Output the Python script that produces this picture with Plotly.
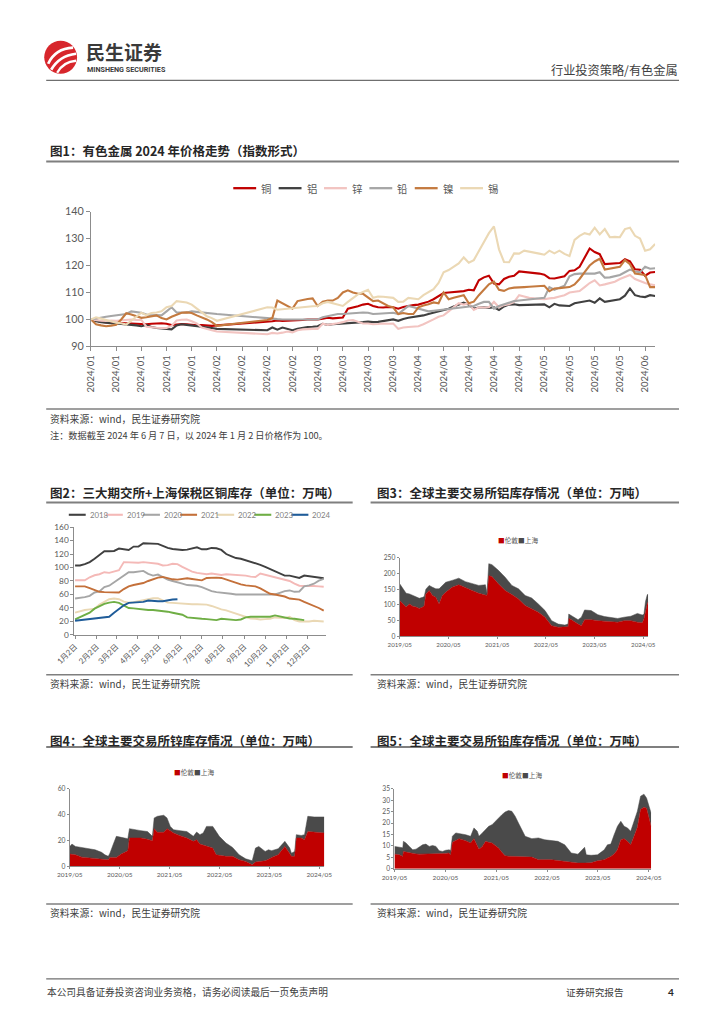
import plotly.graph_objects as go
import pandas as pd

W, H = 724, 1024
# page coordinates (px) -> paper coordinates, compensating the capture offset/scale seen in round 1
SX, OX = 0.962, 25.7
SY, OY = 0.984, 16.4
def X(p): return ((p - OX) / SX) / W
def Y(p): return 1 - ((p - OY) / SY) / H

CN = "Noto Sans CJK SC"
NUM = "Lato, Noto Sans CJK SC"
AX = "#8c8c8c"
TXT = "#404040"
TICK = "#595959"

# ================= Figure 1: price index =================
c1_names = ["铜", "铝", "锌", "铅", "镍", "锡"]
c1_colors = ["#C00000", "#404040", "#F2C4C1", "#A6A6A6", "#C47A3F", "#EBD8B4"]
c1_tickpos = [0, 5, 10, 15, 20, 25, 30, 35, 40, 45, 50, 55, 60, 65, 70, 75, 80, 85, 90, 95, 100, 105, 110]
c1_ticktext = ["2024/01"] * 5 + ["2024/02"] * 4 + ["2024/03"] * 4 + ["2024/04"] * 5 + ["2024/05"] * 4 + ["2024/06"]
c1_days = list(range(113))

cu = [100.0, 99.5, 99.2, 98.9, 98.8, 98.7, 98.6, 98.5, 98.6, 98.4,
      98.3, 98.2, 98.4, 98.5, 98.6, 98.4, 97.9, 98.1, 98.3, 98.2,
      98.0, 97.8, 97.9, 97.7, 97.6, 97.8,
      None, None, None, None, None, None, None, None, None,
      99.0, 99.3, 99.6, 99.4, 99.5, 99.6, 99.5, 99.8, 100.0, 99.9,
      100.0, 100.3, 100.6, 100.4, 100.5, 100.7, 104.0, 104.4, 104.9, 105.5,
      105.8, 105.0, 104.5, 104.4, 104.6, 104.5, 104.0, 104.6, 105.0, 105.3,
      105.5, 106.0, 106.6, 107.5, 108.5, 109.8, 110.0, 110.1, 110.3, 110.5,
      111.0, 110.8, 114.5, 115.6, 116.2, 113.3, 113.0, 115.0, 115.8, 116.2,
      117.8, 117.6, 117.5, 117.3, 117.0, 116.6, 115.3, 115.2, 115.5, 116.0,
      118.0, 118.2, 119.5, 123.0, 126.3, 125.0, 124.2, 120.5, 120.6, 120.8,
      120.9, 122.3, 121.5, 118.6, 118.4, 116.2, 117.4, 117.6]
al = [100.0, 99.3, 99.0, 98.7, 98.6, 98.5, 98.4, 98.2, 98.0, 97.8,
      97.5, 97.9, 97.2, 96.8, 96.6, 96.4, 96.3, 97.8, 98.2, 98.0,
      97.8, 97.5, 97.3, 97.0, 96.8, 96.5,
      None, None, None, None, None, None, None, None, None,
      96.0, 97.0, 96.2, 97.0, 96.4, 96.0, 96.5, 96.9, 97.2, 97.3,
      97.5, 98.4, 98.0, 98.2, 98.3, 98.5, 98.6, 98.8, 98.7, 99.0,
      99.2, 99.0, 99.1, 99.4, 99.6, 100.0, 99.5, 100.2, 100.6, 100.9,
      101.0, 101.5, 102.0, 102.5, 103.0, 103.5, 104.0, 104.8, 105.5, 106.2,
      105.5, 104.0, 104.4, 104.5, 104.3, 104.5, 103.5, 104.8, 105.5, 105.6,
      105.3, 105.4, 105.4, 105.5, 105.5, 105.6, 104.5, 105.8, 105.2, 105.0,
      105.0, 106.0, 106.4, 106.8, 107.0, 106.2, 107.8, 106.5, 106.8, 107.0,
      107.5, 108.8, 111.5, 109.0, 108.5, 108.3, 109.0, 108.7]
zn = [100.0, 99.7, 99.5, 99.4, 99.6, 99.5, 99.7, 99.9, 100.0, 99.8,
      99.8, 97.3, 97.0, 96.9, 96.8, 96.8, 97.6, 99.6, 99.9, 100.0,
      99.3, 98.5, 97.0, 96.4, 96.0, 95.5,
      None, None, None, None, None, None, None, None, None,
      94.5, 95.0, 94.8, 95.1, 95.5, 95.2, 96.0, 96.3, 96.5, 96.5,
      96.5, 98.4, 98.0, 98.2, 98.6, 99.0, 99.6, 99.8, 99.0, 98.5,
      98.5, 98.2, 98.3, 98.5, 98.4, 98.5, 96.5, 97.0, 97.2, 97.4,
      97.5, 98.2, 99.0, 100.0, 101.0, 101.5, 103.0, 104.5, 106.0, 105.5,
      106.0, 103.5, 104.5, 104.4, 104.5, 106.5, 104.5, 105.3, 105.6, 106.5,
      109.0, 108.5, 108.0, 107.8, 107.6, 107.5, 107.8, 108.0, 108.5, 109.0,
      110.0, 110.2, 110.5, 112.0, 113.5, 114.5, 112.6, 113.0, 113.5, 114.0,
      115.0, 115.8, 116.5, 115.0, 114.2, 113.5, 113.0, 112.7]
pb = [100.0, 100.4, 100.7, 101.0, 101.3, 101.5, 101.8, 102.0, 103.0, 102.8,
      102.5, 101.8, 101.5, 101.6, 101.5, 103.0, 104.5, 102.6, 102.5, 102.6,
      103.0, 102.8, 102.5, 102.2, 102.0, 102.0,
      None, None, None, None, None, None, None, None, None,
      100.5, 100.2, 100.1, 100.0, 100.0, 100.2, 100.1, 100.0, 100.0, 100.0,
      100.0, 100.8, 101.2, 101.6, 102.0, 102.0, 102.2, 102.4, 102.5, 102.6,
      102.5, 102.0, 102.1, 102.3, 102.4, 102.5, 102.0, 103.5, 105.0, 104.5,
      104.0, 103.6, 103.0, 103.2, 103.4, 103.6, 104.0, 104.2, 104.3, 104.5,
      104.8, 105.0, 105.8, 106.5, 106.5, 104.0, 105.0, 105.6, 106.2, 106.8,
      107.0, 107.2, 107.4, 107.5, 107.7, 108.0, 112.0, 111.0, 111.8, 112.5,
      116.0, 116.8, 117.0, 117.0, 117.0, 117.0, 117.5, 115.5, 115.6, 116.0,
      116.5, 117.5, 118.5, 117.8, 117.5, 119.5, 118.8, 119.0]
ni = [100.0, 98.2, 97.8, 97.5, 97.7, 98.0, 100.0, 102.3, 101.8, 101.2,
      100.6, 100.8, 101.2, 101.5, 100.5, 100.0, 101.0, 101.8, 102.5, 102.6,
      102.4, 101.5, 100.8, 100.0, 99.0, 97.6,
      None, None, None, None, None, None, None, None, None,
      99.8, 100.5, 107.0, 106.0, 105.0, 104.0, 106.8, 107.3, 107.6, 107.8,
      105.0, 106.6, 107.0, 107.0, 108.0, 110.0, 110.8, 110.0, 109.5, 109.5,
      108.0, 106.8, 107.0, 106.0, 105.0, 104.5, 102.0, 102.4, 102.0, 102.0,
      104.5, 105.2, 105.6, 106.3, 106.0, 110.0, 107.5, 108.0, 108.5, 109.0,
      106.0, 106.6, 109.0, 111.0, 113.0, 114.0, 111.0, 110.6, 111.5, 111.8,
      112.0, 112.0, 112.1, 112.2, 112.3, 112.5, 110.5, 111.5, 111.6, 111.8,
      112.0, 113.0, 115.0, 117.5, 120.0, 121.5, 122.5, 118.5, 118.8, 119.2,
      119.5, 122.0, 120.5, 117.0, 116.8, 116.5, 112.0, 112.0]
sn = [100.0, 100.8, 100.3, 99.8, 99.2, 98.8, 98.6, 98.1, 99.5, 101.0,
      102.5, 101.6, 102.4, 102.6, 103.0, 104.5, 105.0, 106.8, 106.6, 106.3,
      105.5, 104.0, 102.5, 101.2, 100.5, 99.5,
      None, None, None, None, None, None, None, None, None,
      104.5, 104.4, 103.6, 103.8, 104.0, 104.3, 104.5, 104.6, 104.8, 104.9,
      105.0, 106.0, 106.5, 106.0, 105.3, 105.0, 106.5, 108.0, 109.3, 110.2,
      111.0, 108.0, 108.5, 108.4, 108.3, 108.0, 106.5, 106.6, 108.0, 107.8,
      107.5, 109.0, 110.0, 111.2, 113.5, 117.5, 118.3, 119.5, 120.8, 123.0,
      121.0, 122.0, 125.5, 128.5, 132.0, 134.5, 126.0, 121.3, 121.2, 124.5,
      124.4, 125.5, 125.2, 124.9, 124.4, 124.0, 125.5, 124.5, 125.5, 124.3,
      123.5, 129.5, 131.0, 132.0, 131.5, 134.0, 131.5, 133.5, 130.5, 130.6,
      130.5, 133.5, 134.0, 131.0, 130.0, 125.5, 126.0, 128.0]
c1_series = [cu, al, zn, pb, ni, sn]

# ================= Figure 2: copper stocks by year =================
c2_years = ["2018", "2019", "2020", "2021", "2022", "2023", "2024"]
c2_colors = ["#404040", "#F4B9B7", "#A6A6A6", "#C4703A", "#EAD8B4", "#6FAE45", "#1F5C99"]
c2_weeks = pd.date_range("2001-01-02", periods=52, freq="7D")
c2_tickvals = ["2001-01-02", "2001-02-02", "2001-03-02", "2001-04-02", "2001-05-02", "2001-06-02",
               "2001-07-02", "2001-08-02", "2001-09-02", "2001-10-02", "2001-11-02", "2001-12-02"]
c2_ticktext = ["1月2日", "2月2日", "3月2日", "4月2日", "5月2日", "6月2日",
               "7月2日", "8月2日", "9月2日", "10月2日", "11月2日", "12月2日"]
y2018 = [103, 103, 105, 108, 113, 119, 124, 124, 124.5, 128, 127, 126, 131, 131, 136, 136, 135.5, 135, 132, 129,
         127.5, 126.5, 126, 126.5, 128, 130, 127, 127, 129, 128.5, 126, 120, 117, 114, 113, 111, 109, 106, 104, 101,
         98, 95, 92, 88, 88, 86, 84.5, 88, 87, 86, 84.5, 84]
y2019 = [81, 80.5, 81, 85.5, 88.5, 90, 93, 92, 93.5, 96, 108, 107.5, 107, 107, 108, 107, 106, 105.5, 103, 103.5,
         105.5, 105, 101, 97, 94, 92, 91, 90, 91, 90, 89, 90, 89.5, 89, 89, 88, 86.5, 86, 91, 89,
         87.5, 85, 83, 81.5, 80, 76, 73, 72.5, 73, 72.5, 72, 71.5]
y2020 = [54, 54.5, 56, 58, 63, 64.5, 71, 73, 78, 84, 88, 93, 93, 93.5, 95, 90.5, 88, 89.5, 86, 82,
         80, 77.5, 76, 74, 74, 73, 71, 68, 65, 63.5, 63, 62.5, 61, 60, 60, 60, 59.5, 59, 59, 59.5,
         60, 60, 62.5, 65, 66, 64, 64.5, 72, 73.5, 76, 80.5, 83]
y2021 = [72, 72, 72, 69.5, 66.5, 64, 63.5, 63, 62.5, 63, 68, 72, 74, 75.5, 77, 80, 82.5, 85, 86, 84,
         82.5, 82, 83, 84, 83, 82.5, 81, 84.5, 85, 85, 84.5, 82, 80, 77.5, 75, 73.5, 72.5, 72, 69, 64.5,
         61, 60, 59, 57, 54, 53.5, 52.5, 49, 46, 44, 40, 36]
y2022 = [33, 35.5, 37, 38, 39, 45, 49.5, 53, 54, 53, 49.5, 48, 48.5, 50, 51, 53.5, 54.5, 54.5, 51, 48,
         47.5, 47, 46, 45, 45.5, 45.5, 45, 45, 43, 40, 38, 36.5, 34, 32, 28.5, 26, 24.5, 24, 23, 23.5,
         24, 26, 25.5, 25, 27, 22, 20, 19.5, 20, 21, 20.5, 20]
y2023 = [23, 26, 29, 33, 39, 43, 46, 48, 49, 47.5, 44, 40, 39.5, 38.5, 38, 37, 37, 36.5, 36, 34.5,
         33, 31.5, 30, 26, 25, 25, 24, 23.5, 22.5, 22, 24, 23.5, 22.5, 22, 23, 26, 27, 27, 26, 26.5,
         27, 29, 27.5, 25.5, 24.5, 24, 23, 22, None, None, None, None]
y2024 = [21, 22, 22.5, 23, 24, 25, 26, 27, 33, 38, 44, 47.5, 48, 48.5, 49, 51, 50, 50, 50, 51.5,
         52.5, 53] + [None] * 30
c2_series = [y2018, y2019, y2020, y2021, y2022, y2023, y2024]

# ================= Figure 3: aluminium stocks =================
area_names = ["伦敦", "上海"]
area_colors = ["#C00000", "#4A4A4A"]
c3_dates = ["2019-05-01", "2019-05-25", "2019-06-18", "2019-07-13", "2019-08-07", "2019-09-01", "2019-09-25",
            "2019-10-20", "2019-11-01", "2019-11-13", "2019-12-08", "2020-01-02", "2020-01-27", "2020-02-20",
            "2020-03-16", "2020-04-10", "2020-05-28", "2020-07-17", "2020-09-05", "2020-10-25", "2020-12-14",
            "2021-02-02", "2021-02-14", "2021-02-27", "2021-03-23", "2021-05-10", "2021-06-30", "2021-08-19",
            "2021-10-08", "2021-11-27", "2022-01-15", "2022-03-06", "2022-04-25", "2022-06-14", "2022-08-02",
            "2022-09-21", "2022-10-15", "2022-10-20", "2022-11-09", "2022-12-29", "2023-01-23", "2023-02-16",
            "2023-04-06", "2023-05-26", "2023-07-15", "2023-09-02", "2023-10-22", "2023-12-10", "2024-01-29",
            "2024-03-18", "2024-04-24", "2024-05-06", "2024-05-18", "2024-05-31", "2024-06-07"]
c3_lme = [114, 103, 93, 103, 96, 93, 89, 93, 98, 135, 146, 130, 124, 103, 130, 140, 156, 164, 156, 146,
          137, 133, 130, 193, 190, 167, 146, 133, 119, 98, 87, 77, 61, 34, 29, 29, 31, 57, 53, 39,
          34, 53, 53, 50, 48, 47, 45, 50, 50, 45, 43, 55, 82, 103, 110]
c3_total = [167, 151, 137, 135, 130, 124, 121, 124, 127, 150, 162, 156, 151, 151, 162, 172, 178, 185, 174, 167,
            162, 164, 137, 231, 228, 210, 188, 162, 151, 130, 122, 103, 82, 50, 39, 36, 39, 71, 66, 53,
            61, 84, 82, 69, 63, 61, 57, 61, 64, 73, 68, 70, 111, 132, 135]

# ================= Figure 4: zinc stocks =================
c4_dates = ["2019-05-01", "2019-05-17", "2019-06-11", "2019-07-28", "2019-09-15", "2019-11-02", "2019-12-20",
            "2020-01-13", "2020-02-07", "2020-02-19", "2020-03-13", "2020-04-06", "2020-05-12", "2020-06-05",
            "2020-06-29", "2020-07-11", "2020-08-16", "2020-10-03", "2020-11-20", "2020-12-26", "2021-01-08",
            "2021-02-01", "2021-03-19", "2021-04-12", "2021-05-06", "2021-05-30", "2021-07-17", "2021-09-04",
            "2021-10-22", "2021-11-15", "2021-12-09", "2022-01-02", "2022-01-26", "2022-03-13", "2022-04-07",
            "2022-04-30", "2022-06-18", "2022-08-05", "2022-09-22", "2022-11-09", "2022-12-03", "2022-12-27",
            "2023-01-20", "2023-02-13", "2023-04-01", "2023-04-25", "2023-05-18", "2023-07-05", "2023-08-23",
            "2023-09-28", "2023-10-10", "2023-11-03", "2023-11-15", "2023-12-21", "2024-01-14", "2024-02-07",
            "2024-03-25", "2024-06-07"]
c4_lme = [9.6, 9.5, 9.0, 7.2, 6.5, 5.9, 5.4, 5.3, 5.2, 7.0, 7.0, 7.0, 9.6, 11.0, 12.2, 22.0, 22.0, 22.0, 21.0, 19.9,
          29.2, 26.4, 26.4, 29.2, 27.7, 25.9, 23.8, 22.0, 19.4, 20.7, 17.3, 16.5, 15.5, 14.2, 9.0, 8.5, 7.8, 7.8,
          5.2, 3.9, 2.5, 1.3, 3.4, 3.8, 4.4, 5.5, 7.0, 9.0, 15.5, 10.0, 7.8, 7.8, 22.0, 22.0, 20.7, 27.0, 26.4, 25.9]
c4_total = [15.5, 17.3, 15.5, 14.7, 13.4, 12.9, 10.9, 9.0, 7.8, 10.3, 16.8, 23.3, 22.5, 22.0, 21.5, 29.2, 28.4, 27.7,
            27.0, 23.3, 37.5, 38.8, 39.6, 37.5, 31.0, 28.4, 27.7, 27.0, 23.3, 26.6, 24.6, 25.9, 31.0, 31.0, 27.0,
            23.3, 18.1, 14.7, 9.0, 5.9, 5.2, 4.4, 14.2, 15.5, 11.6, 12.9, 12.2, 13.7, 19.4, 14.2, 10.3, 11.6, 24.6,
            24.0, 24.6, 38.8, 38.3, 38.3]

# ================= Figure 5: lead stocks =================
c5_dates = ["2019-05-01", "2019-06-06", "2019-06-30", "2019-07-04", "2019-07-23", "2019-08-16", "2019-09-09",
            "2019-10-03", "2019-10-26", "2019-11-19", "2019-12-13", "2020-01-06", "2020-01-30", "2020-02-23",
            "2020-03-17", "2020-04-10", "2020-05-03", "2020-05-27", "2020-06-08", "2020-06-20", "2020-07-14",
            "2020-08-07", "2020-09-24", "2020-10-29", "2020-11-22", "2020-12-16", "2020-12-28", "2021-01-21",
            "2021-02-14", "2021-03-08", "2021-04-01", "2021-04-24", "2021-05-18", "2021-06-11", "2021-07-04",
            "2021-07-28", "2021-08-21", "2021-09-14", "2021-10-08", "2021-11-01", "2021-11-25", "2022-01-12",
            "2022-02-28", "2022-04-15", "2022-06-01", "2022-07-18", "2022-09-05", "2022-10-22", "2022-12-09",
            "2023-01-26", "2023-02-07", "2023-03-13", "2023-04-29", "2023-06-16", "2023-07-09", "2023-08-02",
            "2023-08-26", "2023-09-19", "2023-10-13", "2023-11-06", "2023-11-30", "2023-12-23", "2024-01-16",
            "2024-02-09", "2024-03-03", "2024-03-27", "2024-04-15", "2024-05-02", "2024-05-18"]
c5_lme = [6.4, 6.1, 5.4, 7.6, 7.3, 7.0, 6.6, 6.5, 6.4, 6.4, 6.4, 6.4, 6.4, 6.4, 6.4, 6.5, 6.7, 6.9, 5.9, 11.6,
          12.5, 13.2, 12.3, 11.3, 13.2, 10.5, 8.6, 9.8, 12.0, 11.6, 11.3, 10.2, 9.1, 7.2, 5.7, 5.5, 5.4, 5.4, 5.4,
          5.2, 5.1, 5.1, 4.0, 4.0, 4.0, 3.6, 3.2, 2.8, 2.5, 2.5, 2.5, 2.6, 3.5, 4.0, 4.7, 5.4, 6.5, 8.3, 12.7,
          13.2, 12.0, 10.5, 14.2, 18.2, 26.0, 27.0, 26.5, 22.0, 18.5]
c5_total = [9.8, 9.4, 9.2, 12.0, 11.3, 9.8, 8.3, 8.6, 9.5, 10.5, 10.8, 9.8, 10.2, 9.8, 7.9, 7.6, 8.1, 8.3, 8.0, 14.2,
            15.7, 15.5, 14.9, 14.2, 17.9, 16.4, 14.2, 15.7, 17.1, 18.6, 19.3, 20.8, 22.3, 23.7, 24.9, 25.5, 25.2,
            23.0, 20.0, 17.1, 14.2, 13.2, 13.5, 12.7, 12.4, 12.0, 10.5, 6.9, 6.4, 9.4, 6.1, 5.9, 6.1, 8.3, 10.5,
            10.8, 14.9, 18.6, 20.8, 18.6, 17.9, 16.4, 20.8, 25.2, 31.8, 32.7, 31.0, 28.0, 24.3]

area_years = ["2019-05-01", "2020-05-01", "2021-05-01", "2022-05-01", "2023-05-01", "2024-05-01"]
area_ticktext = ["2019/05", "2020/05", "2021/05", "2022/05", "2023/05", "2024/05"]

# ================= build figure =================
fig = go.Figure()

for name, col, ys in zip(c1_names, c1_colors, c1_series):
    fig.add_trace(go.Scatter(x=c1_days, y=ys, name=name, mode="lines", connectgaps=True,
                             line=dict(color=col, width=2.1), xaxis="x", yaxis="y", showlegend=False))

for name, col, ys in zip(c2_years, c2_colors, c2_series):
    fig.add_trace(go.Scatter(x=c2_weeks, y=ys, name=name, mode="lines",
                             line=dict(color=col, width=1.9), xaxis="x2", yaxis="y2", showlegend=False))

for k, (dts, lme, tot) in enumerate([(c3_dates, c3_lme, c3_total), (c4_dates, c4_lme, c4_total),
                                      (c5_dates, c5_lme, c5_total)]):
    xa, ya = "x%d" % (k + 3), "y%d" % (k + 3)
    fig.add_trace(go.Scatter(x=dts, y=lme, name=area_names[0], mode="lines", fill="tozeroy",
                             fillcolor=area_colors[0], line=dict(color=area_colors[0], width=0.5),
                             xaxis=xa, yaxis=ya, showlegend=False))
    fig.add_trace(go.Scatter(x=dts, y=tot, name=area_names[1], mode="lines", fill="tonexty",
                             fillcolor=area_colors[1], line=dict(color=area_colors[1], width=0.5),
                             xaxis=xa, yaxis=ya, showlegend=False))

def axstyle(**kw):
    d = dict(showline=True, linecolor=AX, linewidth=1, ticks="outside", ticklen=4, tickcolor=AX,
             showgrid=False, zeroline=False, fixedrange=True)
    d.update(kw)
    return d

layout = dict(
    width=W, height=H, margin=dict(l=0, r=0, t=0, b=0),
    paper_bgcolor="white", plot_bgcolor="white", showlegend=False, hovermode=False,
    font=dict(family=CN, color=TXT),
    xaxis=axstyle(domain=[X(89), X(656)], range=[0, 112], anchor="y", tickmode="array",
                  tickvals=c1_tickpos, ticktext=c1_ticktext, tickangle=-90,
                  tickfont=dict(family=NUM, size=9.5, color=TICK)),
    yaxis=axstyle(domain=[Y(346.7), Y(212.3)], range=[90, 140], dtick=10, anchor="x",
                  tickfont=dict(family=NUM, size=10.8, color=TICK)),
    xaxis2=axstyle(domain=[X(72.3), X(325)], range=["2001-01-01", "2001-12-28"], anchor="y2",
                   type="date", tickmode="array", tickvals=c2_tickvals, ticktext=c2_ticktext, tickangle=-45,
                   ticklen=3, tickfont=dict(family=NUM, size=7.8, color=TICK)),
    yaxis2=axstyle(domain=[Y(634.3), Y(526.7)], range=[0, 160], dtick=20, anchor="x2", ticklen=3,
                   tickfont=dict(family=NUM, size=8.3, color=TICK)),
    xaxis3=axstyle(domain=[X(399.3), X(649)], range=["2019-05-01", "2024-06-07"], anchor="y3", type="date",
                   tickmode="array", tickvals=area_years, ticktext=area_ticktext, tickangle=0, ticklen=2,
                   tickfont=dict(family=NUM, size=6.2, color=TICK)),
    yaxis3=axstyle(domain=[Y(635.7), Y(557.3)], range=[0, 250], dtick=50, anchor="x3", ticklen=2,
                   tickfont=dict(family=NUM, size=6.7, color=TICK)),
    xaxis4=axstyle(domain=[X(67.7), X(323.5)], range=["2019-05-01", "2024-06-07"], anchor="y4", type="date",
                   tickmode="array", tickvals=area_years, ticktext=area_ticktext, tickangle=0, ticklen=2,
                   tickfont=dict(family=NUM, size=6.5, color=TICK)),
    yaxis4=axstyle(domain=[Y(865), Y(787.7)], range=[0, 60], dtick=20, anchor="x4", ticklen=2,
                   tickfont=dict(family=NUM, size=6.7, color=TICK)),
    xaxis5=axstyle(domain=[X(394), X(652)], range=["2019-05-01", "2024-05-18"], anchor="y5", type="date",
                   tickmode="array", tickvals=area_years, ticktext=area_ticktext, tickangle=0, ticklen=2,
                   tickfont=dict(family=NUM, size=6.5, color=TICK)),
    yaxis5=axstyle(domain=[Y(867.3), Y(787.7)], range=[0, 35], dtick=5, anchor="x5", ticklen=2,
                   tickfont=dict(family=NUM, size=6.7, color=TICK)),
)
fig.update_layout(**layout)

shapes = []
ann = []

def hline(y, x0, x1, color="#7f7f7f", width=1.5):
    shapes.append(dict(type="line", xref="paper", yref="paper", x0=X(x0), x1=X(x1), y0=Y(y), y1=Y(y),
                       line=dict(color=color, width=width)))

def text(x, y, s, size, color=TXT, anchor="left", bold=False, family=CN):
    ann.append(dict(xref="paper", yref="paper", x=X(x), y=Y(y), text=("<b>%s</b>" % s) if bold else s,
                    showarrow=False, xanchor=anchor, yanchor="middle", borderpad=0,
                    font=dict(size=size, color=color, family=family)))

def qpath(p0, c, p1):
    return "M %f %f Q %f %f %f %f" % (X(p0[0]), Y(p0[1]), X(c[0]), Y(c[1]), X(p1[0]), Y(p1[1]))

# ---- header ----
shapes.append(dict(type="circle", xref="paper", yref="paper", x0=X(42), x1=X(75), y0=Y(75), y1=Y(42),
                   fillcolor="#D7262C", line=dict(width=0)))
for p0, c, p1, w in [((46, 65), (53, 50), (71, 49), 2.7), ((49, 71), (57, 57), (74, 55), 2.7),
                     ((55, 74), (61, 63), (74, 62), 2.3)]:
    shapes.append(dict(type="path", xref="paper", yref="paper", path=qpath(p0, c, p1),
                       line=dict(color="white", width=w)))
text(83, 53, "民生证券", 19, color="#3a3a3a", bold=True)
text(84, 70.5, "MINSHENG SECURITIES", 7.2, color="#3a3a3a", bold=True, family="Roboto, Open Sans")
text(680, 71, "行业投资策略/有色金属", 12.2, color=TXT, anchor="right")
hline(81.5, 44, 680, color="#6f6f6f", width=1.3)

# ---- figure 1 frame ----
text(47, 151, "图1：有色金属 2024 年价格走势（指数形式）", 12.5, color="#262626", bold=True)
hline(162.5, 44, 680, width=2)
for i, (name, col) in enumerate(zip(c1_names, c1_colors)):
    x0 = 232 + i * 45.6
    shapes.append(dict(type="line", xref="paper", yref="paper", x0=X(x0), x1=X(x0 + 23), y0=Y(189), y1=Y(189),
                       line=dict(color=col, width=2.3)))
    text(x0 + 27, 189, name, 10.4, color=TICK)
hline(409, 44, 680, width=1.5)
text(47, 419, "资料来源：wind，民生证券研究院", 9.8, color=TXT)
text(47, 434.5, "注：数据截至 2024 年 6 月 7 日，以 2024 年 1 月 2 日价格作为 100。", 9.2, color=TXT)

# ---- figure 2 / 3 frame ----
text(47, 492.5, "图2：三大期交所+上海保税区铜库存（单位：万吨）", 12.5, color="#262626", bold=True)
text(375, 492.5, "图3：全球主要交易所铝库存情况（单位：万吨）", 12.5, color="#262626", bold=True)
hline(502.3, 44, 352, width=2)
hline(502.3, 370, 680, width=2)
for i, (name, col) in enumerate(zip(c2_years, c2_colors)):
    x0 = 66.7 + i * 37.3
    shapes.append(dict(type="line", xref="paper", yref="paper", x0=X(x0), x1=X(x0 + 17), y0=Y(514.5),
                       y1=Y(514.5), line=dict(color=col, width=2.1)))
    text(x0 + 20, 514.5, name, 7.8, color="#7f7f7f", family=NUM)
legend_html = ('<span style="color:%s">■</span>%s<span style="color:%s">■</span>%s'
               % (area_colors[0], area_names[0], area_colors[1], area_names[1]))
text(518, 540, legend_html, 6.7, color="#595959", anchor="center")
hline(674, 44, 352, width=1.5)
hline(674, 370, 680, width=1.5)
text(47, 683.5, "资料来源：wind，民生证券研究院", 9.8, color=TXT)
text(375, 683.5, "资料来源：wind，民生证券研究院", 9.8, color=TXT)

# ---- figure 4 / 5 frame ----
text(47, 739, "图4：全球主要交易所锌库存情况（单位：万吨）", 12.5, color="#262626", bold=True)
text(375, 739, "图5：全球主要交易所铅库存情况（单位：万吨）", 12.5, color="#262626", bold=True)
hline(746, 44, 352, width=2)
hline(746, 370, 680, width=2)
text(193, 771, legend_html, 6.7, color="#595959", anchor="center")
text(522, 774.3, legend_html, 6.7, color="#595959", anchor="center")
hline(902.5, 44, 352, width=1.5)
hline(902.5, 370, 680, width=1.5)
text(47, 911.5, "资料来源：wind，民生证券研究院", 9.8, color=TXT)
text(375, 911.5, "资料来源：wind，民生证券研究院", 9.8, color=TXT)

# ---- footer ----
hline(977, 44, 680, color="#6f6f6f", width=1.2)
text(44, 990, "本公司具备证券投资咨询业务资格，请务必阅读最后一页免责声明", 9.7, color=TXT)
text(565, 990, "证券研究报告", 9.6, color=TXT)
text(672, 990, "4", 10, color="#262626", anchor="center", bold=True, family=NUM)

fig.update_layout(shapes=shapes, annotations=ann)
fig.write_html("out.html")
